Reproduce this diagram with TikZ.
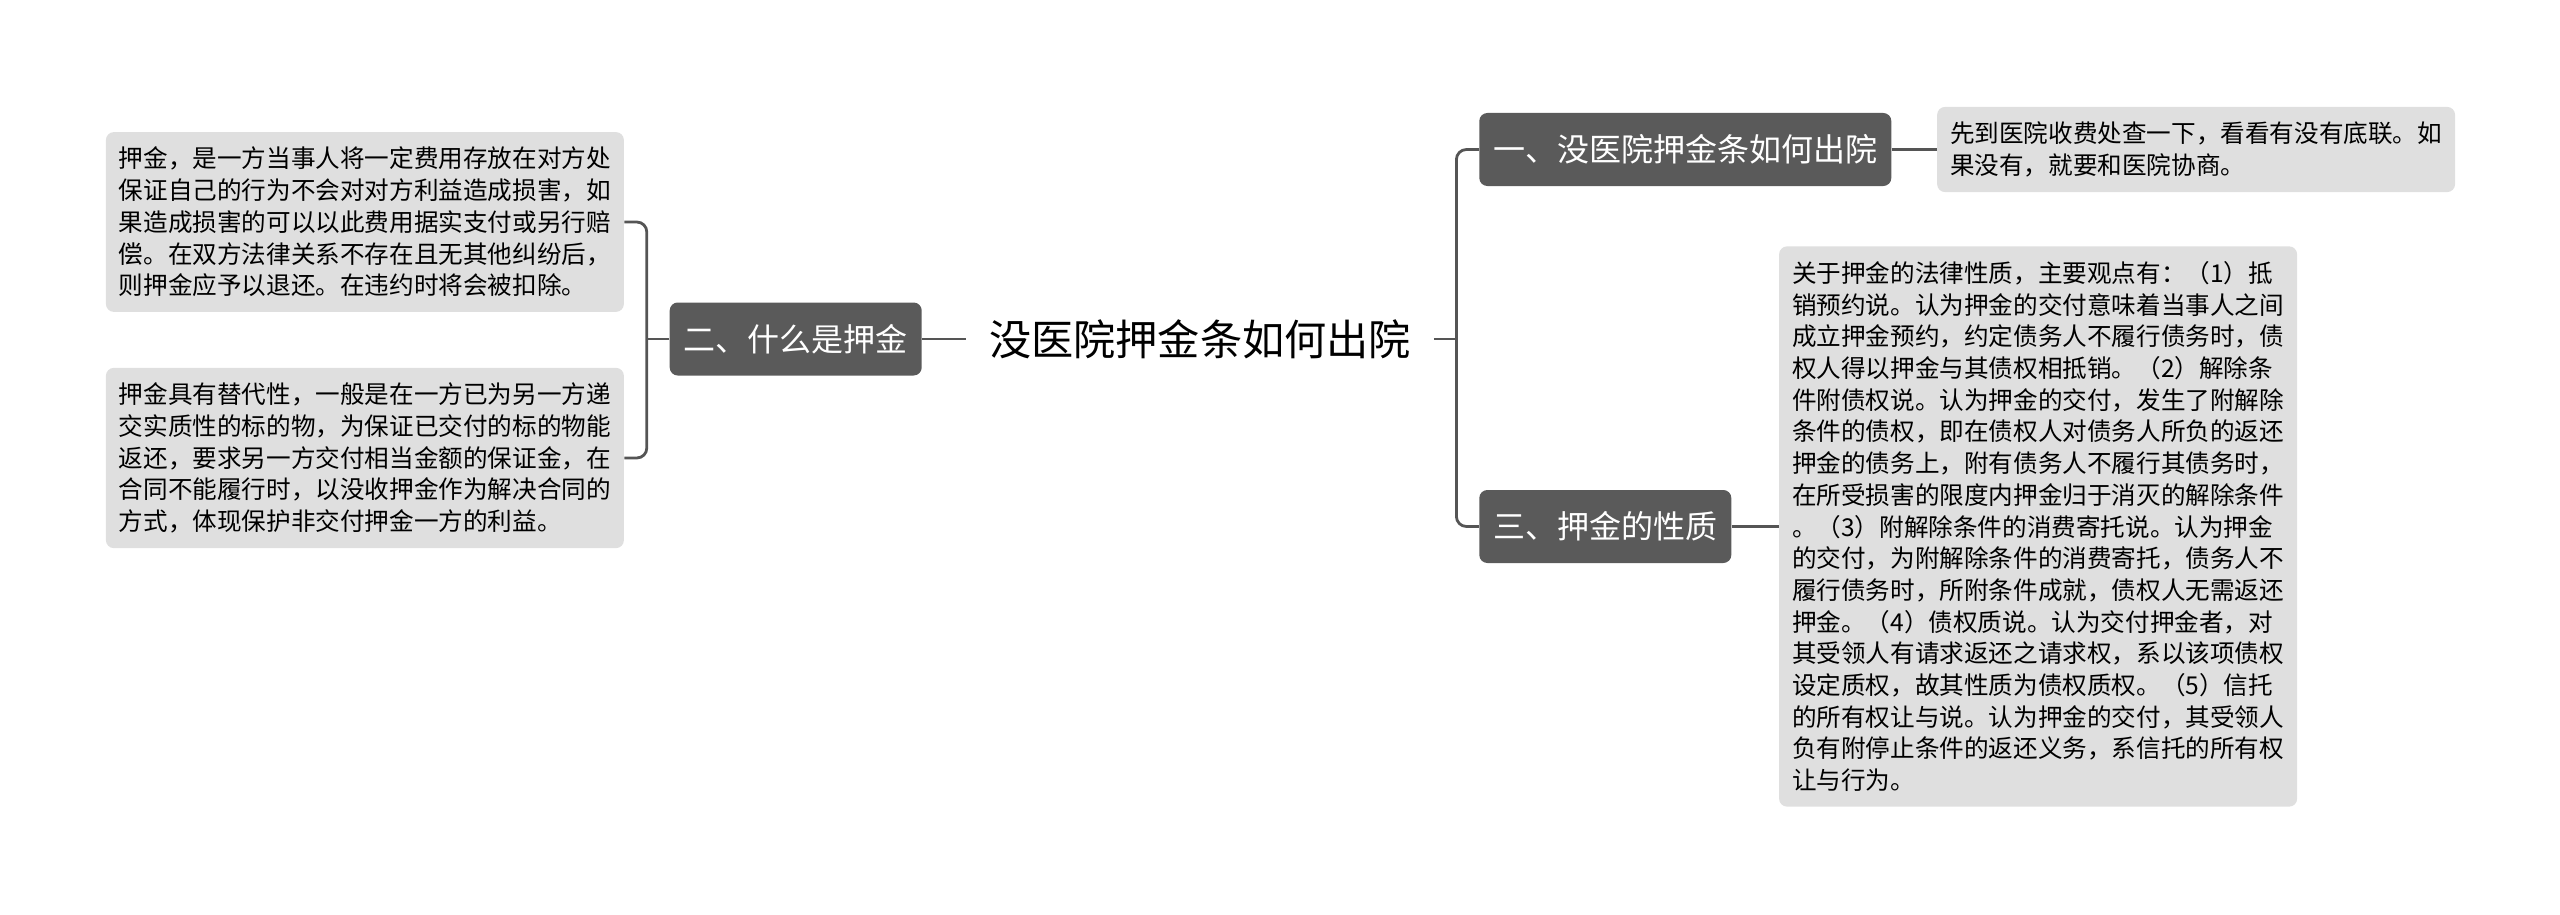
\documentclass[tikz,border=0pt]{standalone}
\usepackage{fontspec}
\setmainfont{Noto Sans CJK SC}
\usetikzlibrary{positioning}

\definecolor{topicgray}{HTML}{5A5A5A}
\definecolor{notegray}{HTML}{DFDFDF}
\definecolor{linegray}{HTML}{555555}

\begin{document}
\begin{tikzpicture}[
  rootbox/.style={inner xsep=11.25pt, inner ysep=4pt, font=\fontsize{21.1}{25}\selectfont},
  topicbox/.style={rectangle, rounded corners=4pt, fill=topicgray, text=white,
                   inner xsep=7pt, minimum height=36.5pt, font=\fontsize{16}{19}\selectfont},
  notebox/.style={rectangle, rounded corners=4pt, fill=notegray, align=left,
                  inner xsep=6.5pt, inner ysep=7.5pt, font=\fontsize{12.3}{15.85}\selectfont},
  conn/.style={draw=linegray, line width=1.4pt},
  bracket/.style={conn, rounded corners=5pt}
]
\useasboundingbox (0,0) rectangle (1280pt,-457.5pt);

% --- Centre ---
\node[rootbox] (root) at (600pt,-169.5pt) {没医院押金条如何出院};

% --- Left branch ---
\node[topicbox, left=22pt of root] (what) {二、什么是押金};
\node[notebox, left=22.5pt of what, yshift=58.5pt] (what1)
  {押金，是一方当事人将一定费用存放在对方处\\
   保证自己的行为不会对对方利益造成损害，如\\
   果造成损害的可以以此费用据实支付或另行赔\\
   偿。在双方法律关系不存在且无其他纠纷后，\\
   则押金应予以退还。在违约时将会被扣除。};
\node[notebox, left=22.5pt of what, yshift=-59.5pt] (what2)
  {押金具有替代性，一般是在一方已为另一方递\\
   交实质性的标的物，为保证已交付的标的物能\\
   返还，要求另一方交付相当金额的保证金，在\\
   合同不能履行时，以没收押金作为解决合同的\\
   方式，体现保护非交付押金一方的利益。};

% --- Right branch ---
\node[topicbox, right=22.5pt of root, yshift=94.75pt] (how) {一、没医院押金条如何出院};
\node[notebox, right=22.5pt of how] (how1)
  {先到医院收费处查一下，看看有没有底联。如\\
   果没有，就要和医院协商。};
\node[topicbox, right=22.5pt of root, yshift=-93.75pt] (kind) {三、押金的性质};
\node[notebox, right=23.5pt of kind] (kind1)
  {关于押金的法律性质，主要观点有：（1）抵\\
   销预约说。认为押金的交付意味着当事人之间\\
   成立押金预约，约定债务人不履行债务时，债\\
   权人得以押金与其债权相抵销。（2）解除条\\
   件附债权说。认为押金的交付，发生了附解除\\
   条件的债权，即在债权人对债务人所负的返还\\
   押金的债务上，附有债务人不履行其债务时，\\
   在所受损害的限度内押金归于消灭的解除条件\\
   。（3）附解除条件的消费寄托说。认为押金\\
   的交付，为附解除条件的消费寄托，债务人不\\
   履行债务时，所附条件成就，债权人无需返还\\
   押金。（4）债权质说。认为交付押金者，对\\
   其受领人有请求返还之请求权，系以该项债权\\
   设定质权，故其性质为债权质权。（5）信托\\
   的所有权让与说。认为押金的交付，其受领人\\
   负有附停止条件的返还义务，系信托的所有权\\
   让与行为。};

% --- Connectors ---
\coordinate[left=11.25pt of what.west] (wj);
\coordinate[right=11.25pt of root.east] (rj);

\draw[conn] (what.east) -- (root.west);
\draw[conn] (what.west) -- (wj);
\draw[bracket] (what1.east) -| (wj) |- (what2.east);

\draw[conn] (root.east) -- (rj);
\draw[bracket] (how.west) -| (rj) |- (kind.west);
\draw[conn] (how.east) -- (how1.west);
\draw[conn] (kind.east) -- (kind1.west);

\end{tikzpicture}
\end{document}
